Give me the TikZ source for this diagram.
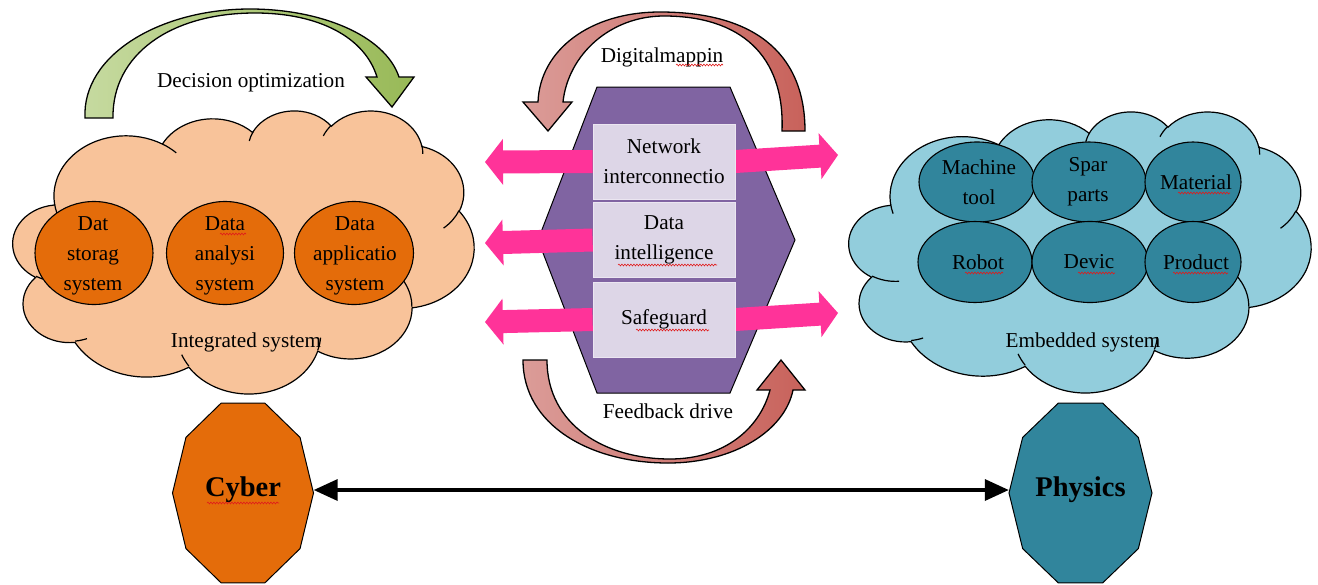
\documentclass[tikz,border=0pt]{standalone}
\usepackage{fontspec}
\setmainfont{Liberation Serif}
\usetikzlibrary{arrows.meta,calc,shapes.geometric,decorations.pathmorphing}

\definecolor{peach}{HTML}{F8C39A}
\definecolor{orangeE}{HTML}{E46C0A}
\definecolor{skyC}{HTML}{92CDDC}
\definecolor{tealE}{HTML}{31859C}
\definecolor{purpH}{HTML}{8064A2}
\definecolor{lilac}{HTML}{DDD6E7}
\definecolor{hotpink}{HTML}{FF3399}
\definecolor{greenL}{HTML}{C6DAA0}
\definecolor{greenD}{HTML}{98B957}
\definecolor{roseL}{HTML}{DB9C98}
\definecolor{roseD}{HTML}{C8625B}
\definecolor{squig}{HTML}{E01B1B}

\pgfdeclarelayer{bglayer}
\pgfdeclarelayer{hexlayer}
\pgfdeclarelayer{arrowlayer}
\pgfsetlayers{bglayer,hexlayer,arrowlayer,main}

% Elliptic arc helper: turns a visual start angle / sweep into the
% parametric start angle and sweep used by TikZ's arc operation.
\newcommand\cloudarcdef[5]{%
  \pgfmathsetmacro\cldA{atan2((#2)*sin(#4),(#3)*cos(#4))}%
  \pgfmathsetmacro\cldB{atan2((#2)*sin((#4)+(#5)),(#3)*cos((#4)+(#5)))}%
  \pgfmathsetmacro\cldD{(\cldB)-(\cldA)}%
  \pgfmathsetmacro\cldD{(\cldD)+360*((#5)>0)*((\cldD)<0)-360*((#5)<0)*((\cldD)>0)}%
  \expandafter\xdef\csname cldS#1\endcsname{\cldA}%
  \expandafter\xdef\csname cldD#1\endcsname{\cldD}%
}
% outline puffs
\cloudarcdef{A}{67.53}{91.90}{-190.48748}{123.78053}
\cloudarcdef{B}{53.33}{72.67}{-144.10238}{89.94523}
\cloudarcdef{C}{43.65}{59.45}{-145.80792}{99.72302}
\cloudarcdef{D}{48.57}{65.95}{-130.98607}{117.24173}
\cloudarcdef{E}{53.33}{72.73}{-78.70888}{109.02692}
\cloudarcdef{F}{67.75}{92.20}{-46.26725}{130.269}
\cloudarcdef{G}{57.85}{78.67}{0.62502}{114.03333}
\cloudarcdef{H}{67.52}{92.15}{22.4516}{115.17255}
\cloudarcdef{I}{77.20}{105.43}{66.24263}{75.71102}
\cloudarcdef{J}{43.60}{59.18}{-274.94208}{146.73557}
\cloudarcdef{K}{43.45}{59.45}{-246.8285}{152.51885}
% inner creases
\cloudarcdef{a}{43.45}{59.45}{86.742}{26.4295}
\cloudarcdef{b}{43.60}{59.18}{73.61047}{11.44747}
\cloudarcdef{c}{67.52}{92.15}{137.62415}{14.0811}
\cloudarcdef{d}{67.52}{92.15}{6.45327}{15.99835}
\cloudarcdef{e}{57.85}{78.67}{-70.29235}{70.91737}
\cloudarcdef{f}{53.33}{72.73}{30.31803}{27.7515}
\cloudarcdef{g}{48.57}{65.95}{-13.74433}{14.8589}
\cloudarcdef{h}{48.57}{65.95}{-149.18145}{18.19537}
\cloudarcdef{i}{43.65}{59.45}{-163.49427}{17.68635}
\cloudarcdef{j}{67.53}{91.90}{-66.70695}{12.31935}
\cloudarcdef{k}{67.53}{91.90}{157.65435}{11.85817}

% cloud in a 432 x 432 frame, placed at (#1,#2) with size #3 x #4
\newcommand\wordcloud[5]{%
\begin{scope}[shift={(#1,#2)},xscale=#3/432,yscale=#4/432]
\path[#5] (39.00,143.70)
  arc[start angle=\cldSA,delta angle=\cldDA,x radius=67.53,y radius=91.90]
  arc[start angle=\cldSB,delta angle=\cldDB,x radius=53.33,y radius=72.67]
  arc[start angle=\cldSC,delta angle=\cldDC,x radius=43.65,y radius=59.45]
  arc[start angle=\cldSD,delta angle=\cldDD,x radius=48.57,y radius=65.95]
  arc[start angle=\cldSE,delta angle=\cldDE,x radius=53.33,y radius=72.73]
  arc[start angle=\cldSF,delta angle=\cldDF,x radius=67.75,y radius=92.20]
  arc[start angle=\cldSG,delta angle=\cldDG,x radius=57.85,y radius=78.67]
  arc[start angle=\cldSH,delta angle=\cldDH,x radius=67.52,y radius=92.15]
  arc[start angle=\cldSI,delta angle=\cldDI,x radius=77.20,y radius=105.43]
  arc[start angle=\cldSJ,delta angle=\cldDJ,x radius=43.60,y radius=59.18]
  arc[start angle=\cldSK,delta angle=\cldDK,x radius=43.45,y radius=59.45]
  -- cycle;
\draw[cloudedge]
  (46.93,261.77) arc[start angle=\cldSa,delta angle=\cldDa,x radius=43.45,y radius=59.45]
  (69.28,348.99) arc[start angle=\cldSb,delta angle=\cldDb,x radius=43.60,y radius=59.18]
  (164.78,390.90) arc[start angle=\cldSc,delta angle=\cldDc,x radius=67.52,y radius=92.15]
  (288.27,347.51) arc[start angle=\cldSd,delta angle=\cldDd,x radius=67.52,y radius=92.15]
  (341.29,229.54) arc[start angle=\cldSe,delta angle=\cldDe,x radius=57.85,y radius=78.67]
  (417.98,153.54) arc[start angle=\cldSf,delta angle=\cldDf,x radius=53.33,y radius=72.73]
  (383.24,54.26) arc[start angle=\cldSg,delta angle=\cldDg,x radius=48.57,y radius=65.95]
  (290.78,39.52) arc[start angle=\cldSh,delta angle=\cldDh,x radius=48.57,y radius=65.95]
  (221.41,47.20) arc[start angle=\cldSi,delta angle=\cldDi,x radius=43.65,y radius=59.45]
  (140.00,51.92) arc[start angle=\cldSj,delta angle=\cldDj,x radius=67.53,y radius=91.90]
  (41.27,157.89) arc[start angle=\cldSk,delta angle=\cldDk,x radius=67.53,y radius=91.90];
\end{scope}}

% broad pink arrow from #1 to the tip #2
\newcommand\fatarrow[2]{%
  \path ($(#2)!18pt!(#1)$) coordinate (fahead);
  \fill[hotpink] ($(#1)!11.5pt!90:(#2)$) -- ($(fahead)!11.5pt!90:(#2)$)
    -- ($(fahead)!23pt!90:(#2)$) -- (#2) -- ($(fahead)!23pt!-90:(#2)$)
    -- ($(fahead)!11.5pt!-90:(#2)$) -- ($(#1)!11.5pt!-90:(#2)$) -- cycle;}

\tikzset{
  cloudedge/.style={draw=black,line width=1.2pt},
  cloudbody/.style={draw=black,line width=1.2pt,fill=#1},
  cyberell/.style={ellipse,draw=black,line width=1.1pt,fill=orangeE,minimum height=103pt},
  physell/.style={ellipse,draw=black,line width=1.1pt,fill=tealE},
  infobox/.style={rectangle,fill=lilac,draw=lilac!60!white,line width=0.8pt,
    minimum width=142pt,minimum height=75pt},
  hexfill/.style={fill=purpH,draw=black,line width=1pt},
  curvearrow/.style={draw=black,line width=1.3pt},
  decaline/.style={draw=black,line width=1pt,fill=#1},
  decanode/.style={rectangle,minimum width=141pt,minimum height=30pt,
    font=\fontsize{28.5}{34}\selectfont\bfseries},
  biarrow/.style={line width=3.5pt,{Triangle[length=24pt,width=21pt]}-{Triangle[length=24pt,width=21pt]}},
  squiggle/.style={draw=squig,line width=0.6pt,decorate,
    decoration={snake,amplitude=0.9pt,segment length=3pt}}
}

\begin{document}
\begin{tikzpicture}[x=1pt,y=-1pt,
  every node/.style={font=\fontsize{21.2}{30}\selectfont,inner sep=0pt,align=center}]
\useasboundingbox (0,0) rectangle (1318,584);
\begin{pgfonlayer}{bglayer}
\fill[white] (0,0) rectangle (1318,584);
\end{pgfonlayer}

% ---- cyber side: integrated system cloud ----
\wordcloud{13}{110}{461}{283}{cloudbody=peach}
\node[cyberell,minimum width=118pt] (store) at (94,253) {};
\node[cyberell,minimum width=117pt] (analy) at (225,253) {};
\node[cyberell,minimum width=119pt] (appl) at (354,253) {};
\node (storet) at (93,256) {Dat\\storag\\system};
\node (analyt) at (225,256) {Data\\analysi\\system};
\node (applt) at (355,256) {Data\\applicatio\\system};
\node[anchor=base] (intsys) at (246,347) {Integrated system};

% decision optimization arrow
\draw[curvearrow,left color=greenL,right color=greenD]
  (85,118) .. controls (82,55) and (160,9) .. (250,9)
  .. controls (320,9) and (385,35) .. (399,77)
  -- (414,77) -- (392,107) -- (366,77) -- (377,77)
  .. controls (365,38) and (320,13) .. (255,13)
  .. controls (170,13) and (112,55) .. (113,118) -- cycle;
\node[anchor=base] (decopt) at (251,87) {Decision optimization};

% ---- physical side: embedded system cloud ----
\wordcloud{849}{111}{462}{281}{cloudbody=skyC}
\node[physell,minimum width=116pt,minimum height=80pt] (mtool) at (977,182) {};
\node[physell,minimum width=114pt,minimum height=80pt] (spar) at (1089,182) {};
\node[physell,minimum width=96pt,minimum height=80pt] (mat) at (1193,182) {};
\node[physell,minimum width=114pt,minimum height=81pt] (robot) at (975,262) {};
\node[physell,minimum width=116pt,minimum height=81pt] (devic) at (1090,262) {};
\node[physell,minimum width=96pt,minimum height=81pt] (prod) at (1193,262) {};
\node (mtoolt) at (979,182) {Machine\\tool};
\node (spart) at (1088,182) {Spar\\parts};
\node (matt) at (1196,182) {Material};
\node (robott) at (978,262) {Robot};
\node (devict) at (1089,262) {Devic};
\node (prodt) at (1196,262) {Product};
\node[anchor=base] (embsys) at (1083,347) {Embedded system};

% ---- central hub ----
\begin{pgfonlayer}{hexlayer}
\draw[hexfill] (597,87) -- (730,87) -- (795,240) -- (730,393) -- (597,393) -- (538,240) -- cycle;
\end{pgfonlayer}
\node[infobox] (net) at (664,161.5) {Network\\interconnectio};
\node[infobox] (intel) at (664,240) {Data\\intelligence};
\node[infobox] (safe) at (664,319.5) {Safeguard};

\coordinate (tipL1) at (485,162);
\coordinate (tipL2) at (485,243);
\coordinate (tipL3) at (485,322);
\coordinate (tipR1) at (838,155);
\coordinate (tipR3) at (838,313);
\begin{pgfonlayer}{arrowlayer}
\fatarrow{net.west}{tipL1}
\fatarrow{intel.west}{tipL2}
\fatarrow{safe.west}{tipL3}
\fatarrow{net.east}{tipR1}
\fatarrow{safe.east}{tipR3}
\end{pgfonlayer}

% digital mapping arrow (top)
\draw[curvearrow,left color=roseL,right color=roseD]
  (805,131) .. controls (805,50) and (750,12) .. (660,12)
  .. controls (590,12) and (540,50) .. (538,102)
  -- (523,102) -- (548,131) -- (572,102) -- (563,102)
  .. controls (568,55) and (610,16) .. (664,16)
  .. controls (740,16) and (785,55) .. (782,131) -- cycle;
\node[anchor=base] (digmap) at (662,62) {Digitalmappin};

% feedback drive arrow (bottom)
\draw[curvearrow,left color=roseL,right color=roseD]
  (523,360) .. controls (523,425) and (590,463) .. (668,463)
  .. controls (735,463) and (785,430) .. (793,390)
  -- (805,390) -- (781,360) -- (757,390) -- (770,390)
  .. controls (760,428) and (725,459) .. (670,459)
  .. controls (605,459) and (547,425) .. (547,360) -- cycle;
\node[anchor=base] (feedb) at (668,418) {Feedback drive};

% ---- cyber / physics decagons ----
\begin{scope}[shift={(243,493)}]
\draw[decaline=orangeE] (0:70.5 and 94.6) \foreach \a in {36,72,...,324}{ -- (\a:70.5 and 94.6)} -- cycle;
\end{scope}
\begin{scope}[shift={(1080.5,493)}]
\draw[decaline=tealE] (0:71.5 and 94.6) \foreach \a in {36,72,...,324}{ -- (\a:71.5 and 94.6)} -- cycle;
\end{scope}
\node[decanode] (cyber) at (243,490) {Cyber};
\node[decanode,minimum width=143pt] (physics) at (1080.5,490) {Physics};
\draw[biarrow] (cyber) -- (physics);

% spell-check marks
\draw[squiggle] (220,234) -- (246,234);
\draw[squiggle] (207,503) -- (279,503);
\draw[squiggle] (676,65) -- (723,65);
\draw[squiggle] (618,265) -- (717,265);
\draw[squiggle] (636,330) -- (709,330);
\draw[squiggle] (1178,193) -- (1230,193);
\draw[squiggle] (965,273) -- (1003,273);
\draw[squiggle] (1078,273) -- (1115,273);
\draw[squiggle] (1173,273) -- (1228,273);
\end{tikzpicture}
\end{document}
